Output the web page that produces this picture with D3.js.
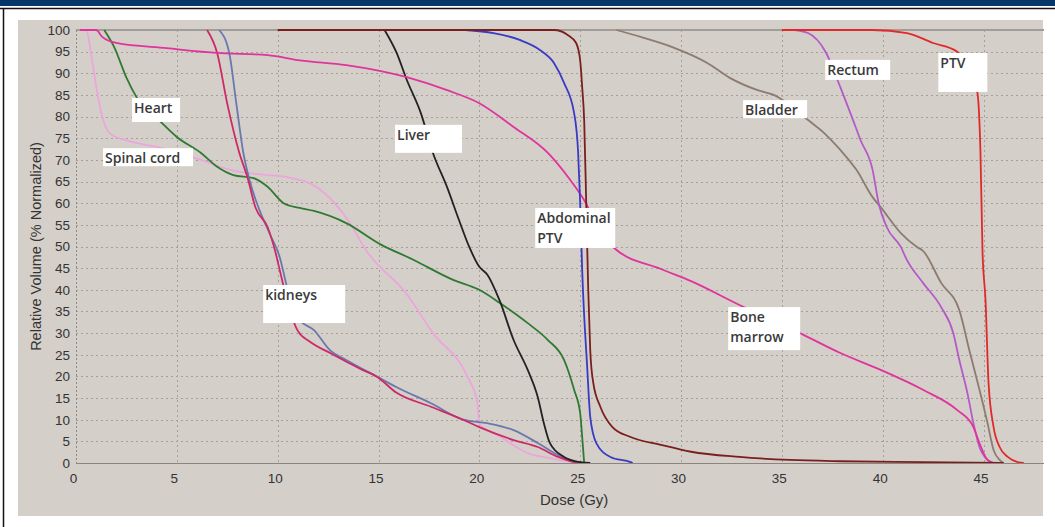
<!DOCTYPE html>
<html>
<head>
<meta charset="utf-8">
<script src="https://cdn.jsdelivr.net/npm/d3@7"></script>
<style>
  html, body { margin: 0; padding: 0; background: #ffffff; }
  svg { display: block; }
</style>
</head>
<body>
<svg id="chart" width="1055" height="527"></svg>
<script>
// Dose-volume histogram: relative volume (%) against dose (Gy)

const doseTicks = [0, 5, 10, 15, 20, 25, 30, 35, 40, 45];
const volumeTicks = [0, 5, 10, 15, 20, 25, 30, 35, 40, 45, 50, 55, 60, 65, 70, 75, 80, 85, 90, 95, 100];

// [dose (Gy), volume (%)]
const heart = [[1.4,100],[1.9,96],[2.5,89],[3.0,84.5],[4.2,78.8],[5.0,75.3],[6.2,71.6],[7.0,68.4],[7.8,66.5],[8.8,65.8],[9.5,63.8],[10.3,60],[11.1,58.9],[11.8,58.2],[13.4,55.4],[15.1,50.5],[16.7,47],[18.7,42.3],[20.0,40],[21.0,37],[22.4,32.3],[23.4,28.4],[24.2,23.8],[24.7,16.9],[25.0,11.5],[25.1,6],[25.2,0]];
const spinalCord = [[0.2,100],[0.5,100],[0.8,93],[1.0,87],[1.3,80],[1.7,76],[2.5,74.5],[4.0,73],[6.2,70],[7.8,67.5],[9.5,66.5],[10.5,66],[12.0,63.5],[13.5,56],[14.4,49],[16.4,39],[17.7,30],[19.4,20],[19.9,14],[20.0,9],[20.9,6.5],[22.4,2.3],[23.4,1.2],[24.5,0.3],[25.0,0]];
const kidneyLeft = [[6.5,100],[7.0,94.7],[7.5,83],[8.1,71.6],[8.5,66],[8.9,59],[9.5,54.5],[9.9,48.5],[10.1,44.6],[10.6,35.3],[11.0,30.5],[11.6,28],[12.6,25.4],[14.2,21.5],[14.9,20],[15.9,16.2],[17.6,13],[19.2,10],[20.0,8.3],[21.7,5.3],[22.9,3.7],[23.9,1.4],[24.7,0.2],[25.0,0]];
const kidneyRight = [[7.1,100],[7.6,94.7],[7.95,83],[8.3,71.6],[8.6,65.4],[9.1,58.4],[9.6,53],[10.1,47.6],[10.5,40],[11.1,33],[11.8,30.7],[12.6,26],[13.4,23.8],[14.9,20],[15.9,17.5],[17.6,13.8],[19.2,10],[20.4,9.2],[21.7,7.6],[22.9,4.6],[23.9,1.8],[24.7,0.3],[25.2,0]];
const liver = [[15.3,100],[15.9,94.7],[16.4,88.5],[17.1,80.8],[17.7,71.6],[18.4,63.7],[19.0,56],[19.5,49.9],[20.0,45.3],[20.4,43.5],[21.0,37.6],[21.7,28.4],[22.4,21.5],[22.9,15.2],[23.2,9.2],[23.5,4.6],[24.2,1.4],[25.0,0.2],[25.5,0]];
const boneMarrow = [[0.2,100],[1.0,100],[1.3,98.4],[2.0,97],[4.5,95.8],[7.0,94.7],[9.5,94.2],[11.1,93],[13.4,91.9],[16.4,89.1],[18.4,86.1],[20.0,83.1],[21.7,77.6],[23.4,71.6],[24.5,65.4],[25.2,60.7],[26.0,53.5],[26.7,49.6],[29.0,44.8],[30.5,42],[32.9,36.5],[35.9,30],[37.9,25.4],[39.9,21.5],[42.0,16.9],[43.7,12.2],[44.5,8.3],[44.8,4.6],[45.2,0.7],[45.5,0]];
const abdominalPtv = [[10.0,100],[23.7,100],[24.4,98.8],[24.8,97],[25.0,93],[25.1,86.8],[25.2,79],[25.3,60],[25.4,40],[25.5,26],[25.65,18.5],[26.0,13],[26.6,8.3],[27.5,6],[29.0,4.2],[30.5,2.6],[32.9,1.4],[35.4,0.7],[37.9,0.4],[42.0,0.2],[46.0,0]];
const abdominalCtv = [[19.3,100],[20.7,99.3],[22.0,97.7],[23.0,95.4],[23.7,92.4],[24.2,87.8],[24.7,80.8],[24.9,71.6],[25.0,60],[25.1,44.6],[25.35,22],[25.5,10.6],[25.8,4.6],[26.5,1.4],[27.5,0.2],[27.6,0]];
const bladder = [[26.8,100],[28.0,98.4],[29.6,96],[31.3,92.4],[32.4,89],[33.8,86.1],[34.6,85],[36.3,79.2],[37.1,76.2],[37.9,72.3],[38.7,67.7],[39.5,61.4],[39.9,59.1],[40.9,53.1],[41.7,49.9],[42.0,49],[42.9,41.6],[43.8,35.3],[44.3,26],[44.8,16.9],[45.2,9.2],[45.5,3],[45.8,0.7],[46.0,0]];
const rectum = [[35.6,100],[36.3,99.3],[37.2,94.7],[37.9,86.8],[38.4,80.8],[38.9,74.6],[39.5,67.7],[39.8,60],[40.2,54.5],[40.9,49.9],[41.2,46.9],[42.0,41.6],[42.9,36],[43.5,30],[43.8,23.8],[44.2,16.2],[44.5,9.2],[44.8,3.7],[45.2,0.7],[45.5,0]];
const ptv = [[35.0,100],[39.5,100],[41.2,99.3],[42.5,97],[43.7,95],[44.4,90],[44.7,85.5],[44.85,71.6],[44.95,49],[45.1,37.6],[45.25,18.5],[45.5,8.3],[45.8,3.7],[46.2,1.4],[46.7,0.2],[47.0,0]];

const curveColors = {
  heart: "#2f7a32", spinalCord: "#eca6dc", kidneyLeft: "#cc2a66", kidneyRight: "#6b78ae",
  liver: "#222222", boneMarrow: "#e0339c", abdominalPtv: "#7a1e1e", abdominalCtv: "#3a3ac4",
  bladder: "#8c7c70", rectum: "#b45ac8", ptv: "#e02a2a"
};

const seriesList = [
  ["spinalCord", spinalCord], ["heart", heart], ["kidneyRight", kidneyRight], ["kidneyLeft", kidneyLeft],
  ["liver", liver], ["bladder", bladder], ["rectum", rectum], ["boneMarrow", boneMarrow],
  ["abdominalCtv", abdominalCtv], ["abdominalPtv", abdominalPtv], ["ptv", ptv]
];

// Callout boxes: top-left anchor in data units, box size in px, text lines
const callouts = [
  { dose: 2.78, vol: 84.3, w: 48, h: 24, lines: ["Heart"] },
  { dose: 1.34, vol: 72.7, w: 90, h: 18, lines: ["Spinal cord"] },
  { dose: 9.28, vol: 41.1, w: 82, h: 38, lines: ["kidneys"] },
  { dose: 15.82, vol: 78.1, w: 67, h: 28, lines: ["Liver"] },
  { dose: 22.77, vol: 58.9, w: 80, h: 40, lines: ["Abdominal", "PTV"] },
  { dose: 33.08, vol: 83.8, w: 64, h: 18, lines: ["Bladder"] },
  { dose: 37.15, vol: 93.1, w: 65, h: 20, lines: ["Rectum"] },
  { dose: 42.76, vol: 94.7, w: 49, h: 39, lines: ["PTV"] },
  { dose: 32.34, vol: 36.0, w: 72, h: 43, lines: ["Bone", "marrow"] }
];

const svg = d3.select("#chart");

// Page header band and frame
svg.append("rect").attr("x", 0).attr("y", 0).attr("width", 1055).attr("height", 6).attr("fill", "#06376b");
svg.append("line").attr("x1", 0).attr("x2", 1055).attr("y1", 8.5).attr("y2", 8.5).attr("stroke", "#111").attr("stroke-width", 1.5);
svg.append("line").attr("x1", 3.5).attr("x2", 3.5).attr("y1", 8).attr("y2", 527).attr("stroke", "#111").attr("stroke-width", 1.5);

// Chart panel
svg.append("rect").attr("x", 18).attr("y", 20).attr("width", 1025).attr("height", 496).attr("fill", "#d5cfca");

const x = d3.scaleLinear().domain([0, 48]).range([76, 1044]);
const y = d3.scaleLinear().domain([0, 100]).range([463, 30]);

// Grid
const grid = svg.append("g");
grid.selectAll("line.h").data(volumeTicks.filter(v => v > 0 && v < 100)).join("line")
  .attr("x1", x(0)).attr("x2", x(48)).attr("y1", d => Math.round(y(d)) + 0.5).attr("y2", d => Math.round(y(d)) + 0.5)
  .attr("stroke", "#a6a09a").attr("stroke-width", 1).attr("stroke-dasharray", "2,3");
grid.selectAll("line.v").data(doseTicks.filter(v => v > 0)).join("line")
  .attr("x1", d => Math.round(x(d)) + 0.5).attr("x2", d => Math.round(x(d)) + 0.5).attr("y1", y(100)).attr("y2", y(0))
  .attr("stroke", "#a6a09a").attr("stroke-width", 1).attr("stroke-dasharray", "2,3");
// Plot bounds
svg.append("line").attr("x1", x(0)).attr("x2", x(48)).attr("y1", y(100)).attr("y2", y(100)).attr("stroke", "#a39d97").attr("stroke-width", 2);
svg.append("line").attr("x1", x(0) + 0.5).attr("x2", x(0) + 0.5).attr("y1", y(100)).attr("y2", y(0)).attr("stroke", "#8f8984").attr("stroke-width", 1).attr("stroke-dasharray", "2,2");

// Curves
const line = d3.line().x(d => x(d[0])).y(d => y(d[1])).curve(d3.curveMonotoneX);
svg.append("g").selectAll("path").data(seriesList).join("path")
  .attr("d", d => line(d[1]))
  .attr("fill", "none")
  .attr("stroke", d => curveColors[d[0]])
  .attr("stroke-width", 1.8)
  .attr("stroke-linejoin", "round");

// Baseline
svg.append("line").attr("x1", x(0)).attr("x2", x(48)).attr("y1", y(0) + 0.5).attr("y2", y(0) + 0.5).attr("stroke", "#8a8580").attr("stroke-width", 1.2);

// Axes
const xAxis = svg.append("g").attr("transform", `translate(0,${y(0)})`)
  .call(d3.axisBottom(x).tickValues(doseTicks).tickSize(0).tickPadding(10));
const yAxis = svg.append("g").attr("transform", `translate(${x(0)},0)`)
  .call(d3.axisLeft(y).tickValues(volumeTicks).tickSize(0).tickPadding(6));
[xAxis, yAxis].forEach(g => {
  g.select(".domain").remove();
  g.selectAll("text").attr("font-family", "'Liberation Sans', Arial, sans-serif").attr("font-size", 13.5).attr("fill", "#333");
});
xAxis.selectAll("text").attr("dx", -3);

svg.append("text").attr("x", 540).attr("y", 505)
  .attr("font-family", "'Liberation Sans', Arial, sans-serif").attr("font-size", 15).attr("fill", "#333")
  .text("Dose (Gy)");
svg.append("text").attr("transform", `translate(41,${y(50)}) rotate(-90)`).attr("text-anchor", "middle")
  .attr("font-family", "'Liberation Sans', Arial, sans-serif").attr("font-size", 14.5).attr("fill", "#333")
  .text("Relative Volume (% Normalized)");

// Callouts
const cg = svg.append("g").selectAll("g").data(callouts).join("g")
  .attr("transform", d => `translate(${x(d.dose)},${y(d.vol)})`);
cg.append("rect").attr("width", d => d.w).attr("height", d => d.h).attr("fill", "#ffffff");
cg.each(function(d) {
  const g = d3.select(this);
  d.lines.forEach((t, i) => {
    g.append("text").attr("x", 2).attr("y", 15 + i * 20)
      .attr("font-family", "'Open Sans', 'DejaVu Sans', sans-serif").attr("font-size", 14)
      .attr("font-weight", 600).attr("fill", "#3a3a3a").text(t);
  });
});
</script>
</body>
</html>
